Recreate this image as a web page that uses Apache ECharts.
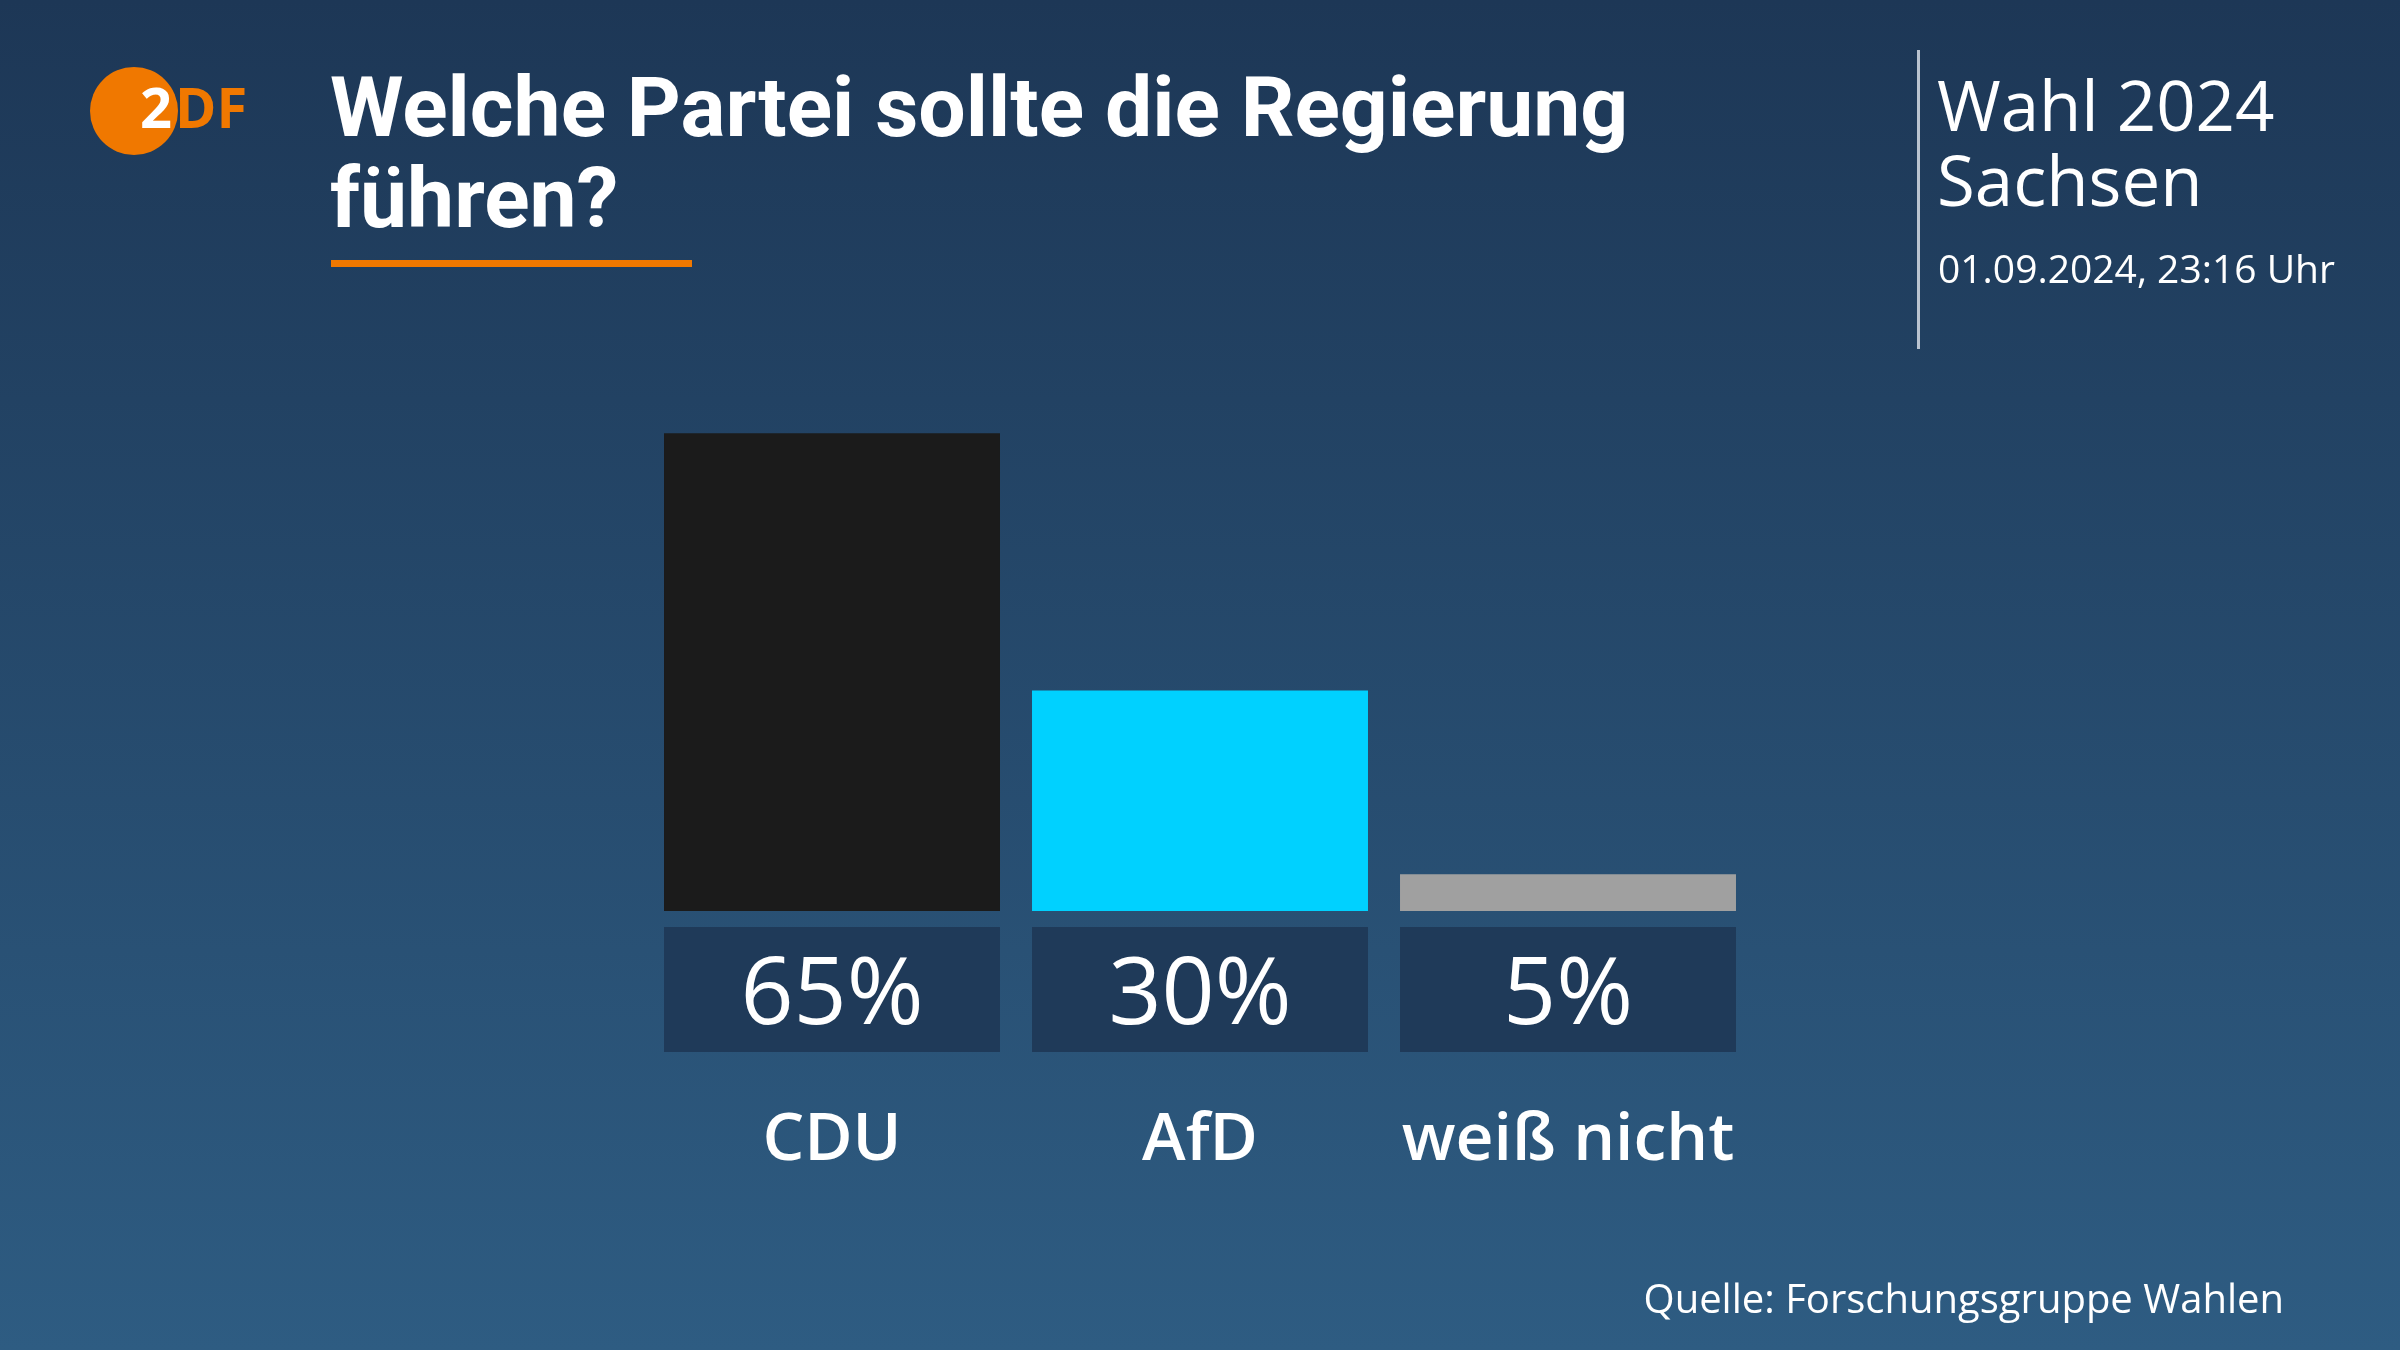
<!DOCTYPE html>
<html>
<head>
<meta charset="utf-8">
<script src="https://cdn.jsdelivr.net/npm/echarts@6/dist/echarts.min.js"></script>
<style>
html,body{margin:0;padding:0;background:#1f3a5b;}
#c{width:2400px;height:1350px;}
</style>
</head>
<body>
<div id="c"></div>
<script>
const categories = ['CDU', 'AfD', 'weiß nicht'];
const values = [65, 30, 5];
const barColors = ['#1b1b1b', '#00d1ff', '#a0a0a0'];
const titleLines = ['Welche Partei sollte die Regierung', 'führen?'];
const sideTitle = ['Wahl 2024', 'Sachsen'];
const dateText = '01.09.2024, 23:16 Uhr';
const sourceText = 'Quelle: Forschungsgruppe Wahlen';

const FONT = '"Open Sans", "Noto Sans", sans-serif';
const TFONT = 'Roboto, "Open Sans", sans-serif';
const chart = echarts.init(document.getElementById('c'), null, {renderer: 'canvas'});

chart.setOption({
  backgroundColor: {
    type: 'linear', x: 0, y: 0, x2: 0, y2: 1,
    colorStops: [{offset: 0, color: '#1d3756'}, {offset: 1, color: '#2e5c82'}]
  },
  animation: false,
  grid: {left: 648, width: 1104, top: 176, bottom: 439},
  xAxis: {
    type: 'category',
    data: categories,
    axisLine: {show: false},
    axisTick: {show: false},
    axisLabel: {
      interval: 0,
      margin: 24,
      formatter: (v, i) => '{box|' + values[i] + '%}\n{cat|' + v + '}',
      rich: {
        box: {
          width: 336, height: 109, lineHeight: 109, padding: [16, 0, 0, 0], align: 'center',
          backgroundColor: '#1f3a59', color: '#ffffff',
          fontFamily: FONT, fontSize: 93, fontWeight: 'normal'
        },
        cat: {
          lineHeight: 194, align: 'center', color: '#ffffff',
          fontFamily: FONT, fontSize: 66, fontWeight: 600
        }
      }
    }
  },
  yAxis: {type: 'value', min: 0, max: 100, show: false, splitLine: {show: false}},
  series: [{
    type: 'bar',
    data: values.map((v, i) => ({value: v, itemStyle: {color: barColors[i]}})),
    barCategoryGap: '8.7%',
    label: {show: false}
  }],
  graphic: [
    {type: 'circle', shape: {cx: 134, cy: 111, r: 44}, style: {fill: '#f07800'}},
    {type: 'text', x: 140, y: 112, style: {text: '2', fill: '#ffffff', font: 'bold 56px ' + FONT, verticalAlign: 'middle'}},
    {type: 'text', x: 175, y: 112, style: {text: 'DF', fill: '#f07800', font: 'bold 56px ' + FONT, verticalAlign: 'middle'}},
    {type: 'text', x: 330, y: 115, style: {text: titleLines[0], fill: '#ffffff', font: 'bold 84px ' + TFONT, verticalAlign: 'middle'}},
    {type: 'text', x: 330, y: 206, style: {text: titleLines[1], fill: '#ffffff', font: 'bold 84px ' + TFONT, verticalAlign: 'middle'}},
    {type: 'rect', shape: {x: 331, y: 260, width: 361, height: 7}, style: {fill: '#f07800'}},
    {type: 'rect', shape: {x: 1917, y: 50, width: 3, height: 299}, style: {fill: '#b9c3cf'}},
    {type: 'text', x: 1937, y: 111, style: {text: sideTitle[0], fill: '#ffffff', font: '69px ' + FONT, verticalAlign: 'middle'}},
    {type: 'text', x: 1937, y: 186, style: {text: sideTitle[1], fill: '#ffffff', font: '69px ' + FONT, verticalAlign: 'middle'}},
    {type: 'text', x: 1938, y: 272, style: {text: dateText, fill: '#ffffff', font: '39px ' + FONT, verticalAlign: 'middle'}},
    {type: 'text', x: 2284, y: 1302, style: {text: sourceText, fill: '#ffffff', font: '40px ' + FONT, align: 'right', verticalAlign: 'middle'}}
  ]
});
</script>
</body>
</html>
